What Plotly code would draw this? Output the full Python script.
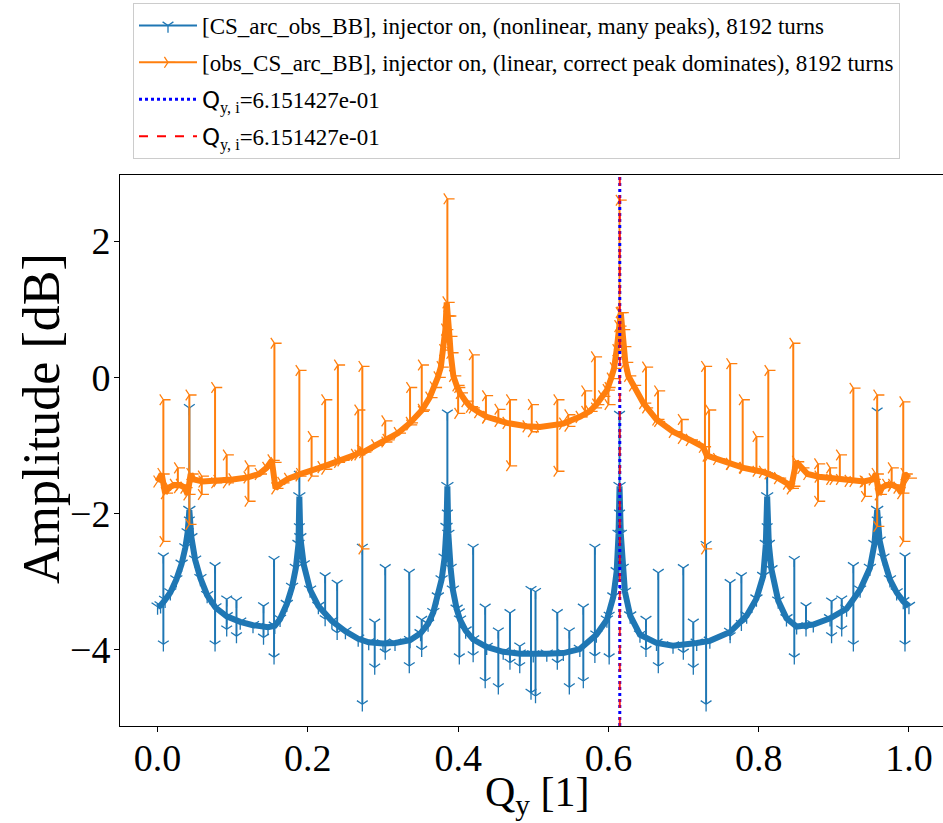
import plotly.graph_objects as go

# ---------------- data ----------------
Q_TUNE = 0.6151427

SERIES_NAMES = [
    "[CS_arc_obs_BB], injector on, (nonlinear, many peaks), 8192 turns",
    "[obs_CS_arc_BB], injector on, (linear, correct peak dominates), 8192 turns",
]
X_TITLE = "Q<sub>y</sub> [1]"
Y_TITLE = "Amplitude [dB]"

X_TICKS = [0.0, 0.2, 0.4, 0.6, 0.8, 1.0]
X_TICK_LABELS = ["0.0", "0.2", "0.4", "0.6", "0.8", "1.0"]
Y_TICKS = [-4, -2, 0, 2]
Y_TICK_LABELS = ["\u22124", "\u22122", "0", "2"]

# blue spectrum: smooth envelope
BLUE_ENV_Q = [0.000, 0.004, 0.010, 0.017, 0.025, 0.032, 0.037, 0.040, 0.0423, 0.045, 0.050, 0.057,
              0.066, 0.077, 0.092, 0.110, 0.127, 0.147, 0.156, 0.163, 0.172, 0.179, 0.184, 0.1875,
              0.1887, 0.190, 0.1945, 0.203, 0.214, 0.232, 0.250, 0.267, 0.281, 0.300, 0.316, 0.336,
              0.350, 0.360, 0.367, 0.373, 0.378, 0.382, 0.3845, 0.3857, 0.387, 0.390, 0.393, 0.398,
              0.4025, 0.410, 0.420, 0.438, 0.460, 0.482, 0.500,
              0.518, 0.540, 0.562, 0.584, 0.598, 0.6066, 0.611, 0.6135, 0.6148, 0.6165, 0.619,
              0.622, 0.629, 0.642, 0.664, 0.686, 0.7175, 0.735, 0.762, 0.784, 0.797, 0.806, 0.8095,
              0.8113, 0.8135, 0.817, 0.826, 0.837, 0.8505, 0.8727, 0.895, 0.917, 0.935, 0.948,
              0.954, 0.9577, 0.961, 0.966, 0.9747, 0.9836, 0.9924, 1.000]
BLUE_ENV_A = [-3.37, -3.35, -3.27, -3.16, -2.97, -2.74, -2.50, -2.28, -1.95, -2.35, -2.68, -2.95,
              -3.20, -3.38, -3.51, -3.59, -3.64, -3.67, -3.65, -3.55, -3.33, -3.08, -2.80, -2.45,
              -1.75, -2.35, -2.75, -3.12, -3.36, -3.58, -3.73, -3.84, -3.89, -3.91, -3.90, -3.86,
              -3.76, -3.62, -3.45, -3.22, -2.97, -2.65, -2.20, -1.60, -2.30, -2.80, -3.12, -3.40,
              -3.56, -3.72, -3.85, -3.96, -4.03, -4.06, -4.07,
              -4.06, -4.05, -3.99, -3.78, -3.56, -3.22, -2.85, -2.30, -1.60, -2.30, -2.80,
              -3.15, -3.50, -3.78, -3.90, -3.94, -3.90, -3.87, -3.74, -3.50, -3.25, -2.92, -2.45,
              -1.75, -2.45, -2.82, -3.28, -3.54, -3.66, -3.63, -3.54, -3.40, -3.12, -2.80,
              -2.45, -1.95, -2.40, -2.65, -2.97, -3.16, -3.29, -3.36]

# blue spectrum: narrow lines (position, upper end, lower end)
BLUE_SPIKE_Q = [0.0077, 0.0423, 0.0765, 0.092, 0.105, 0.141, 0.155, 0.1887, 0.223, 0.239, 0.2725,
                0.289, 0.303, 0.335, 0.3515, 0.3857, 0.4016, 0.420, 0.436, 0.4535, 0.469, 0.482,
                0.497, 0.503, 0.532, 0.548, 0.5666, 0.582, 0.601, 0.6148, 0.650, 0.6664, 0.6997,
                0.713, 0.730, 0.762, 0.777, 0.8113, 0.8474, 0.863, 0.897, 0.9105, 0.926, 0.9577,
                0.9947]
BLUE_SPIKE_HI = [-2.63, -0.45, -2.77, -3.26, -3.28, -3.36, -2.68, -1.43, -2.92, -3.03, -2.50,
                 -3.60, -2.80, -2.87, -3.56, -0.53, -3.45, -2.50, -3.38, -3.73, -3.46, -3.95,
                 -3.12, -3.15, -3.46, -3.73, -3.38, -2.50, -3.50, -0.55, -3.56, -2.87, -2.80,
                 -3.60, -2.46, -3.02, -2.92, -1.45, -2.68, -3.36, -3.29, -3.26, -2.77, -0.50,
                 -2.63]
BLUE_SPIKE_LO = [-3.92, -2.10, -3.92, -3.70, -3.80, -3.82, -4.11, -2.20, -3.55, -3.75, -4.80,
                 -4.26, -4.04, -4.24, -4.00, -2.00, -4.11, -4.08, -4.46, -4.55, -4.19, -4.24,
                 -4.63, -4.68, -4.19, -4.55, -4.46, -4.09, -4.11, -2.00, -4.00, -4.24, -4.04,
                 -4.26, -4.80, -3.80, -3.62, -2.20, -4.11, -3.70, -3.80, -3.70, -3.92, -2.10,
                 -3.92]

# orange spectrum: smooth envelope
ORANGE_ENV_Q = [0.000, 0.0055, 0.010, 0.015, 0.022, 0.030, 0.036, 0.040, 0.044, 0.048, 0.060,
                0.080, 0.100, 0.120, 0.135, 0.145, 0.152, 0.157, 0.165, 0.174, 0.190, 0.2185,
                0.245, 0.263, 0.271, 0.274, 0.290, 0.305, 0.320, 0.336, 0.352, 0.362, 0.368,
                0.373, 0.377, 0.3805, 0.383, 0.3848, 0.387, 0.3885, 0.390, 0.3936, 0.398,
                0.4025, 0.410, 0.416, 0.427, 0.438, 0.4647, 0.4913, 0.509,
                0.540, 0.562, 0.575, 0.584, 0.592, 0.598, 0.6035, 0.6075, 0.611, 0.6135,
                0.6165, 0.6185, 0.620, 0.6225, 0.6265, 0.633, 0.6465, 0.664, 0.686, 0.7086,
                0.726, 0.731, 0.745, 0.762, 0.780, 0.806, 0.826, 0.838, 0.843, 0.850, 0.857,
                0.865, 0.880, 0.900, 0.920, 0.940, 0.952, 0.956, 0.960, 0.964, 0.970, 0.978,
                0.985, 0.990, 0.9945, 1.000]
ORANGE_ENV_A = [-1.53, -1.42, -1.70, -1.62, -1.58, -1.58, -1.62, -1.72, -1.42, -1.50, -1.53,
                -1.52, -1.50, -1.47, -1.42, -1.33, -1.22, -1.63, -1.55, -1.49, -1.42, -1.32,
                -1.22, -1.14, -1.08, -1.10, -1.00, -0.92, -0.82, -0.67, -0.48, -0.30, -0.15,
                0.00, 0.15, 0.40, 0.70, 1.10, 0.90, 0.60, 0.36, 0.02, -0.12,
                -0.23, -0.35, -0.43, -0.51, -0.58, -0.67, -0.72, -0.73,
                -0.68, -0.58, -0.50, -0.40, -0.28, -0.19, -0.02, 0.13, 0.40, 0.75,
                0.95, 0.70, 0.45, 0.22, 0.02, -0.12, -0.38, -0.62, -0.80, -0.92,
                -1.02, -1.15, -1.20, -1.27, -1.33, -1.39, -1.48, -1.56, -1.63, -1.24, -1.33,
                -1.42, -1.46, -1.49, -1.52, -1.53, -1.50, -1.42, -1.72, -1.62, -1.58, -1.58,
                -1.62, -1.70, -1.42, -1.48]

# orange spectrum: narrow lines (position, upper end, lower end)
ORANGE_SPIKE_Q = [0.0077, 0.027, 0.0423, 0.0588, 0.0765, 0.092, 0.1209, 0.1555, 0.1887, 0.205,
                  0.223, 0.240, 0.267, 0.2725, 0.303, 0.336, 0.3516, 0.3857, 0.400, 0.4194,
                  0.437, 0.4535, 0.469, 0.498, 0.532, 0.5466, 0.569, 0.582, 0.600, 0.6148,
                  0.650, 0.666, 0.6975, 0.7285, 0.734, 0.762, 0.7787, 0.797, 0.8128, 0.846,
                  0.879, 0.895, 0.908, 0.926, 0.9414, 0.9577, 0.977, 0.9924]
ORANGE_SPIKE_HI = [-0.33, -1.33, -0.26, -1.45, -0.15, -1.14, -1.30, 0.50, 0.10, -0.87,
                   -0.33, 0.18, -0.48, 0.16, -0.64, -0.15, 0.18, 2.62, -0.15, 0.33,
                   -0.27, -0.47, -0.33, -0.40, -0.33, -0.55, -0.20, 0.30, -0.15, 2.60,
                   0.15, -0.20, -0.62, 0.16, -0.48, 0.20, -0.33, -0.87, 0.10, 0.50,
                   -1.27, -1.33, -1.14, -0.16, -1.53, -0.26, -1.33, -0.36]
ORANGE_SPIKE_LO = [-2.41, -1.62, -2.16, -1.72, -1.55, -1.55, -1.82, -1.25, -1.45, -1.45,
                   -1.35, -1.25, -1.14, -2.52, -0.95, -0.70, -0.50, 0.90, -0.53, -0.45,
                   -0.60, -0.65, -1.30, -0.80, -1.38, -0.72, -0.50, -0.45, -0.40, 0.95,
                   -0.45, -0.65, -0.90, -2.52, -1.15, -1.28, -1.33, -1.38, -1.42, -1.60,
                   -1.82, -1.50, -1.50, -1.53, -1.75, -2.19, -1.60, -2.41]

BLUE = "#1f77b4"
ORANGE = "#ff7f0e"


def spike_xy(sp_q, sp_hi, sp_lo):
    xs, ys = [], []
    for q, hi, lo in zip(sp_q, sp_hi, sp_lo):
        xs += [q, q, None]
        ys += [hi, lo, None]
    return xs, ys


fig = go.Figure()


def add_series(env_q, env_a, sp_q, sp_hi, sp_lo, color, symbol, name, group):
    fig.add_trace(go.Scatter(
        x=env_q, y=env_a, mode="lines+markers", showlegend=False, hoverinfo="skip",
        legendgroup=group,
        line=dict(color=color, width=6),
        marker=dict(symbol=symbol, size=10, color=color, line=dict(width=1.3, color=color)),
    ))
    sx, sy = spike_xy(sp_q, sp_hi, sp_lo)
    fig.add_trace(go.Scatter(
        x=sx, y=sy, mode="lines+markers", name=name, legendgroup=group,
        line=dict(color=color, width=2),
        marker=dict(symbol=symbol, size=9, color=color, line=dict(width=1.3, color=color)),
    ))


add_series(BLUE_ENV_Q, BLUE_ENV_A, BLUE_SPIKE_Q, BLUE_SPIKE_HI, BLUE_SPIKE_LO,
           BLUE, "y-down", SERIES_NAMES[0], "g1")
add_series(ORANGE_ENV_Q, ORANGE_ENV_A, ORANGE_SPIKE_Q, ORANGE_SPIKE_HI, ORANGE_SPIKE_LO,
           ORANGE, "y-right", SERIES_NAMES[1], "g2")

q_label = ("<span style=\"font-family:'DejaVu Sans'\">Q</span><sub>y, i</sub>="
           + f"{Q_TUNE:.6e}")
fig.add_trace(go.Scatter(x=[None], y=[None], mode="lines", name=q_label, legendgroup="g3",
                         line=dict(color="blue", width=3, dash="dot")))
fig.add_trace(go.Scatter(x=[None], y=[None], mode="lines", name=q_label, legendgroup="g4",
                         line=dict(color="red", width=2, dash="dash")))

fig.add_shape(type="line", xref="x", yref="paper", x0=Q_TUNE, x1=Q_TUNE, y0=0, y1=1,
              line=dict(color="blue", width=3, dash="dot"))
fig.add_shape(type="line", xref="x", yref="paper", x0=Q_TUNE, x1=Q_TUNE, y0=0, y1=1,
              line=dict(color="rgba(255,0,0,0.85)", width=2, dash="dash"))

# axis titles
fig.add_annotation(text=Y_TITLE, xref="paper", yref="paper", x=(41 - 120) / 823,
                   y=(726 - 419) / 551, textangle=-90, showarrow=False,
                   xanchor="center", yanchor="middle",
                   font=dict(family="Liberation Serif", size=52, color="black"))
fig.add_annotation(text=X_TITLE, xref="paper", yref="paper", x=(537 - 120) / 823,
                   y=(726 - 795) / 551, showarrow=False,
                   xanchor="center", yanchor="middle",
                   font=dict(family="Liberation Serif", size=42, color="black"))

fig.update_layout(
    width=943, height=823,
    margin=dict(l=120, r=0, t=175, b=97),
    plot_bgcolor="white", paper_bgcolor="white",
    font=dict(family="Liberation Serif", color="black"),
    legend=dict(
        x=(133 - 120) / 823, xanchor="left", y=(726 - 3) / 551, yanchor="top",
        bgcolor="white", bordercolor="#cccccc", borderwidth=1,
        font=dict(family="Liberation Serif", size=23, color="black"),
        itemwidth=58, tracegroupgap=4,
    ),
    xaxis=dict(
        range=[-0.05, 1.0453], tickvals=X_TICKS, ticktext=X_TICK_LABELS,
        ticks="outside", ticklen=5, tickcolor="black", ticklabelstandoff=-7,
        showline=True, linecolor="black", linewidth=1, mirror=True,
        showgrid=False, zeroline=False,
        tickfont=dict(family="Liberation Serif", size=38),
    ),
    yaxis=dict(
        range=[-5.12, 2.97], tickvals=Y_TICKS, ticktext=Y_TICK_LABELS,
        ticks="outside", ticklen=5, tickcolor="black", ticklabelstandoff=-4,
        showline=True, linecolor="black", linewidth=1, mirror=False,
        showgrid=False, zeroline=False,
        tickfont=dict(family="Liberation Serif", size=38),
    ),
)

fig.write_html("out.html", config={"displayModeBar": False},
               post_script="document.body.style.margin='0px';")
